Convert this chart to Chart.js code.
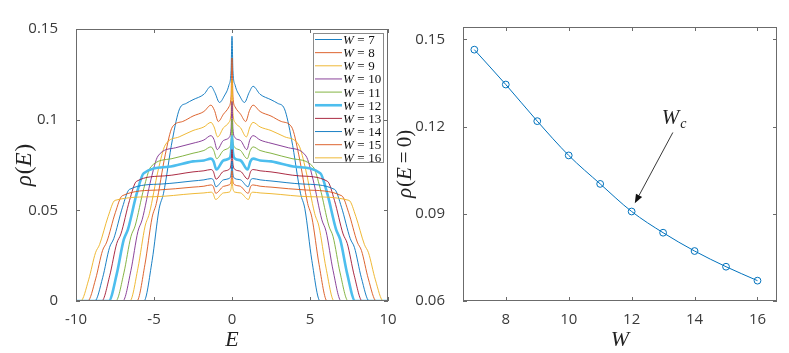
<!DOCTYPE html>
<html><head><meta charset="utf-8">
<script src="https://cdn.jsdelivr.net/npm/chart.js@4/dist/chart.umd.min.js"></script>
<style>
html,body{margin:0;padding:0;background:#fff;width:789px;height:353px;overflow:hidden}
#c1{position:absolute;left:0;top:0}
#c2{position:absolute;left:395px;top:0}
</style></head><body>
<canvas id="c1" width="410" height="353"></canvas>
<canvas id="c2" width="394" height="353"></canvas>
<script>
// ---------- data: left panel, rho(E) for each W ----------
const E_W7 = [-10,-5.65,-5.12,-4.67,-4.39,-3.82,-3.36,-2.93,-2.5,-1.8,-1.35,-1.1,-0.8,-0.5,-0.2,-0.06,0,0.06,0.2,0.5,0.8,1.1,1.35,1.8,2.5,2.93,3.36,3.82,4.39,4.67,5.12,5.65,10];
const rho_W7 = [0,0,0.0223,0.0509,0.0594,0.089,0.106,0.109,0.111,0.114,0.1184,0.115,0.1095,0.113,0.119,0.127,0.146,0.127,0.119,0.113,0.1095,0.115,0.1184,0.114,0.111,0.109,0.106,0.089,0.0594,0.0509,0.0223,0,0];
const E_W8 = [-10,-6.1,-5.58,-5.12,-4.85,-4.28,-3.82,-3.16,-2.5,-1.8,-1.35,-1.12,-0.88,-0.55,-0.2,-0.06,0,0.06,0.2,0.55,0.88,1.12,1.35,1.8,2.5,3.16,3.82,4.28,4.85,5.12,5.58,6.1,10];
const rho_W8 = [0,0,0.0202,0.0461,0.0538,0.0806,0.096,0.099,0.102,0.1045,0.108,0.105,0.099,0.103,0.107,0.113,0.134,0.113,0.107,0.103,0.099,0.105,0.108,0.1045,0.102,0.099,0.096,0.0806,0.0538,0.0461,0.0202,0,0];
const E_W9 = [-10,-6.55,-6.03,-5.57,-5.3,-4.73,-4.28,-3.39,-2.5,-1.8,-1.35,-1.15,-0.92,-0.55,-0.2,-0.06,0,0.06,0.2,0.55,0.92,1.15,1.35,1.8,2.5,3.39,4.28,4.73,5.3,5.57,6.03,6.55,10];
const rho_W9 = [0,0,0.0181,0.0413,0.0482,0.0722,0.086,0.0905,0.094,0.096,0.0985,0.096,0.0905,0.0955,0.0985,0.104,0.122,0.104,0.0985,0.0955,0.0905,0.096,0.0985,0.096,0.094,0.0905,0.086,0.0722,0.0482,0.0413,0.0181,0,0];
const E_W10 = [-10,-7,-6.48,-6.03,-5.76,-5.19,-4.74,-3.62,-2.5,-1.8,-1.35,-1.15,-0.95,-0.55,-0.2,-0.06,0,0.06,0.2,0.55,0.95,1.15,1.35,1.8,2.5,3.62,4.74,5.19,5.76,6.03,6.48,7,10];
const rho_W10 = [0,0,0.0168,0.0384,0.0448,0.0672,0.08,0.0845,0.087,0.0888,0.0912,0.089,0.0835,0.0885,0.09,0.095,0.11,0.095,0.09,0.0885,0.0835,0.089,0.0912,0.0888,0.087,0.0845,0.08,0.0672,0.0448,0.0384,0.0168,0,0];
const E_W11 = [-10,-7.45,-6.93,-6.48,-6.21,-5.65,-5.2,-3.85,-2.5,-1.8,-1.35,-1.17,-0.98,-0.55,-0.2,-0.06,0,0.06,0.2,0.55,0.98,1.17,1.35,1.8,2.5,3.85,5.2,5.65,6.21,6.48,6.93,7.45,10];
const rho_W11 = [0,0,0.0155,0.0355,0.0414,0.0622,0.074,0.0785,0.0815,0.083,0.085,0.083,0.0785,0.083,0.0845,0.088,0.1003,0.088,0.0845,0.083,0.0785,0.083,0.085,0.083,0.0815,0.0785,0.074,0.0622,0.0414,0.0355,0.0155,0,0];
const E_W12 = [-10,-7.9,-7.39,-6.94,-6.67,-6.11,-5.66,-4.08,-2.5,-1.8,-1.35,-1.18,-1,-0.55,-0.2,-0.06,0,0.06,0.2,0.55,1,1.18,1.35,1.8,2.5,4.08,5.66,6.11,6.67,6.94,7.39,7.9,10];
const rho_W12 = [0,0,0.0148,0.0338,0.0395,0.0592,0.0705,0.074,0.077,0.0775,0.0785,0.077,0.0725,0.0775,0.0785,0.082,0.091,0.082,0.0785,0.0775,0.0725,0.077,0.0785,0.0775,0.077,0.074,0.0705,0.0592,0.0395,0.0338,0.0148,0,0];
const E_W13 = [-10,-8.35,-7.84,-7.39,-7.12,-6.57,-6.12,-4.31,-2.5,-1.8,-1.35,-1.2,-1.02,-0.55,-0.2,-0.06,0,0.06,0.2,0.55,1.02,1.2,1.35,1.8,2.5,4.31,6.12,6.57,7.12,7.39,7.84,8.35,10];
const rho_W13 = [0,0,0.0139,0.0317,0.037,0.0554,0.066,0.069,0.0712,0.0718,0.0725,0.0715,0.0672,0.0715,0.0725,0.0755,0.0835,0.0755,0.0725,0.0715,0.0672,0.0715,0.0725,0.0718,0.0712,0.069,0.066,0.0554,0.037,0.0317,0.0139,0,0];
const E_W14 = [-10,-8.8,-8.29,-7.85,-7.58,-7.02,-6.58,-4.54,-2.5,-1.8,-1.35,-1.2,-1.03,-0.55,-0.2,-0.06,0,0.06,0.2,0.55,1.03,1.2,1.35,1.8,2.5,4.54,6.58,7.02,7.58,7.85,8.29,8.8,10];
const rho_W14 = [0,0,0.0129,0.0295,0.0344,0.0517,0.0615,0.0645,0.0662,0.0668,0.0675,0.0668,0.063,0.0668,0.0675,0.07,0.0772,0.07,0.0675,0.0668,0.063,0.0668,0.0675,0.0668,0.0662,0.0645,0.0615,0.0517,0.0344,0.0295,0.0129,0,0];
const E_W15 = [-10,-9.25,-8.74,-8.3,-8.03,-7.48,-7.04,-4.77,-2.5,-1.8,-1.35,-1.2,-1.04,-0.55,-0.2,-0.06,0,0.06,0.2,0.55,1.04,1.2,1.35,1.8,2.5,4.77,7.04,7.48,8.03,8.3,8.74,9.25,10];
const rho_W15 = [0,0,0.0122,0.0278,0.0325,0.0487,0.058,0.0612,0.0628,0.0633,0.064,0.0632,0.0594,0.0632,0.064,0.066,0.0718,0.066,0.064,0.0632,0.0594,0.0632,0.064,0.0633,0.0628,0.0612,0.058,0.0487,0.0325,0.0278,0.0122,0,0];
const E_W16 = [-10,-9.7,-9.19,-8.75,-8.49,-7.94,-7.5,-5,-2.5,-1.8,-1.35,-1.22,-1.05,-0.55,-0.2,-0.06,0,0.06,0.2,0.55,1.05,1.22,1.35,1.8,2.5,5,7.5,7.94,8.49,8.75,9.19,9.7,10];
const rho_W16 = [0,0,0.0117,0.0266,0.0311,0.0466,0.0555,0.0575,0.0592,0.0596,0.06,0.0594,0.056,0.0596,0.06,0.062,0.0672,0.062,0.06,0.0596,0.056,0.0594,0.06,0.0596,0.0592,0.0575,0.0555,0.0466,0.0311,0.0266,0.0117,0,0];

const legendLabels = ['7','8','9','10','11','12','13','14','15','16'];
const leftXTicks = [-10,-5,0,5,10];
const leftYTicks = [0,0.05,0.1,0.15];
const leftYTickLabels = ['0','0.05','0.1','0.15'];

// ---------- data: right panel ----------
const Wvals = [7,8,9,10,11,12,13,14,15,16];
const rhoAtZero = [0.1465,0.1345,0.1219,0.1101,0.1003,0.0908,0.0835,0.0772,0.0718,0.0670];
const rightXTicks = [8,10,12,14,16];
const rightYTicks = [0.06,0.09,0.12,0.15];
const rightYTickLabels = ['0.06','0.09','0.12','0.15'];

// annotation anchors (data units of right panel)
const wcTextPos = {x:12.96, y:0.1209};
const arrowTail = {x:13.31, y:0.1180};
const arrowTip  = {x:12.10, y:0.0936};

// ---------- styling ----------
const colors = ['#0072BD','#D95319','#EDB120','#7E2F8E','#77AC30','#4DBEEE','#A2142F','#0072BD','#D95319','#EDB120'];
const series = [
  [E_W7,rho_W7],[E_W8,rho_W8],[E_W9,rho_W9],[E_W10,rho_W10],[E_W11,rho_W11],
  [E_W12,rho_W12],[E_W13,rho_W13],[E_W14,rho_W14],[E_W15,rho_W15],[E_W16,rho_W16]
];
const TICKFONT = {family:'"Open Sans", sans-serif', size:15};
const TICKCOLOR = '#3a3a3a';
const FRAME = '#6b6b6b';
const SERIF = '"Liberation Serif", "Times New Roman", serif';

function drawRuns(ctx, runs, x, y, align){
  // runs: [text, italic, size, dy, gapAfter]
  let w = 0;
  runs.forEach(r=>{ctx.font=(r[1]?'italic ':'')+r[2]+'px '+SERIF; w+=ctx.measureText(r[0]).width + (r[4]||0);});
  let cx = align==='center' ? x - w/2 : x;
  runs.forEach(r=>{
    ctx.font=(r[1]?'italic ':'')+r[2]+'px '+SERIF;
    ctx.fillText(r[0], cx, y + (r[3]||0));
    cx += ctx.measureText(r[0]).width + (r[4]||0);
  });
  return w;
}

function framePlugin(xt, yt){
  return {
    id:'frame',
    afterDatasetsDraw(chart){
      const {ctx, chartArea:a, scales:{x,y}} = chart;
      ctx.save();
      ctx.strokeStyle=FRAME; ctx.lineWidth=1;
      ctx.strokeRect(a.left+0.5, a.top+0.5, a.right-a.left-1, a.bottom-a.top-1);
      const L=4;
      ctx.beginPath();
      xt.forEach(v=>{const p=Math.round(x.getPixelForValue(v))+0.5;
        ctx.moveTo(p,a.bottom); ctx.lineTo(p,a.bottom-L);
        ctx.moveTo(p,a.top); ctx.lineTo(p,a.top+L);});
      yt.forEach(v=>{const p=Math.round(y.getPixelForValue(v))+0.5;
        ctx.moveTo(a.left,p); ctx.lineTo(a.left+L,p);
        ctx.moveTo(a.right,p); ctx.lineTo(a.right-L,p);});
      ctx.stroke();
      ctx.restore();
    }
  };
}

const leftDecor = {
  id:'leftDecor',
  afterDraw(chart){
    const {ctx, chartArea:a} = chart;
    ctx.save();
    ctx.fillStyle='#222';
    ctx.textBaseline='alphabetic';
    drawRuns(ctx, [['E',true,22]], (a.left+a.right)/2, 346, 'center');
    ctx.save();
    ctx.translate(31, (a.top+a.bottom)/2);
    ctx.rotate(-Math.PI/2);
    drawRuns(ctx, [['ρ',true,23,0,1],['(',false,23],['E',true,23,0,1],[')',false,23]], 0, 0, 'center');
    ctx.restore();
    // legend
    const bx=313, by=33, bw=70, bh=129, rowH=13.15, y0=39.5;
    ctx.fillStyle='#fff'; ctx.fillRect(bx,by,bw,bh);
    ctx.strokeStyle='#8a8a8a'; ctx.lineWidth=1; ctx.strokeRect(bx+0.5,by+0.5,bw,bh);
    chart.data.datasets.forEach((ds,i)=>{
      const yy = y0 + i*rowH;
      ctx.strokeStyle=ds.borderColor; ctx.lineWidth=ds.borderWidth;
      ctx.beginPath(); ctx.moveTo(315,yy); ctx.lineTo(342,yy); ctx.stroke();
      ctx.fillStyle='#111';
      drawRuns(ctx, [['W',true,13,0,3.5],['=',false,13,0,3.5],[legendLabels[i],false,13]], 343, yy+4.5, 'left');
    });
    ctx.restore();
  }
};

const rightDecor = {
  id:'rightDecor',
  afterDraw(chart){
    const {ctx, chartArea:a, scales:{x,y}} = chart;
    ctx.save();
    ctx.fillStyle='#222';
    drawRuns(ctx, [['W',true,22]], (a.left+a.right)/2, 346, 'center');
    ctx.save();
    ctx.translate(16, (a.top+a.bottom)/2);
    ctx.rotate(-Math.PI/2);
    drawRuns(ctx, [['ρ',true,21,0,1],['(',false,21],['E',true,21,0,4],['=',false,21,0,4],['0',false,21],[')',false,21]], 0, 0, 'center');
    ctx.restore();
    // W_c
    const tx=x.getPixelForValue(wcTextPos.x), ty=y.getPixelForValue(wcTextPos.y);
    drawRuns(ctx, [['W',true,21,0,1],['c',true,14,4]], tx, ty, 'left');
    // arrow
    const x1=x.getPixelForValue(arrowTail.x), y1=y.getPixelForValue(arrowTail.y);
    const x2=x.getPixelForValue(arrowTip.x), y2=y.getPixelForValue(arrowTip.y);
    const ang=Math.atan2(y2-y1,x2-x1), hl=9, hw=3.5;
    const bxp=x2-hl*Math.cos(ang), byp=y2-hl*Math.sin(ang);
    ctx.strokeStyle='#222'; ctx.lineWidth=0.9;
    ctx.beginPath(); ctx.moveTo(x1,y1); ctx.lineTo(bxp,byp); ctx.stroke();
    ctx.fillStyle='#111';
    ctx.beginPath();
    ctx.moveTo(x2,y2);
    ctx.lineTo(bxp+hw*Math.sin(ang), byp-hw*Math.cos(ang));
    ctx.lineTo(bxp-hw*Math.sin(ang), byp+hw*Math.cos(ang));
    ctx.closePath(); ctx.fill();
    ctx.restore();
  }
};

function axisCommon(min,max,ticks,labels,isY,size){
  return {
    type:'linear', min, max,
    afterBuildTicks: s => { s.ticks = ticks.map(v=>({value:v})); },
    afterFit: s => { if(isY) s.width=size; else s.height=size; },
    grid:{display:false}, border:{display:false},
    ticks:{font:TICKFONT, color:TICKCOLOR, padding: isY?10:2, maxRotation:0,
      callback:(v,i)=> labels ? labels[i] : String(v)}
  };
}

new Chart(document.getElementById('c1'), {
  type:'line',
  data:{datasets: series.map((s,i)=>({
    label:'W = '+legendLabels[i],
    data: s[0].map((e,j)=>({x:e,y:s[1][j]})),
    borderColor: colors[i],
    borderWidth: i===5 ? 2.6 : 0.9,
    pointRadius:0,
    cubicInterpolationMode:'monotone',
    order: 9-i
  }))},
  options:{
    responsive:false, animation:false, devicePixelRatio:1,
    layout:{padding:{left:0,right:22,top:29,bottom:0}},
    plugins:{legend:{display:false}, tooltip:{enabled:false}},
    scales:{
      x: axisCommon(-10,10,leftXTicks,null,false,52),
      y: axisCommon(0,0.15,leftYTicks,leftYTickLabels,true,76)
    }
  },
  plugins:[framePlugin(leftXTicks,leftYTicks), leftDecor]
});

new Chart(document.getElementById('c2'), {
  type:'line',
  data:{datasets:[{
    data: Wvals.map((w,i)=>({x:w,y:rhoAtZero[i]})),
    borderColor:'#0072BD', borderWidth:1,
    pointRadius:3.4, pointBorderWidth:1, pointBackgroundColor:'rgba(0,0,0,0)', pointBorderColor:'#0072BD',
    cubicInterpolationMode:'monotone'
  }]},
  options:{
    responsive:false, animation:false, devicePixelRatio:1,
    layout:{padding:{left:0,right:12,top:27,bottom:0}},
    plugins:{legend:{display:false}, tooltip:{enabled:false}},
    scales:{
      x: axisCommon(6.64,16.62,rightXTicks,null,false,52),
      y: axisCommon(0.06,0.1543,rightYTicks,rightYTickLabels,true,68)
    }
  },
  plugins:[framePlugin(rightXTicks,rightYTicks), rightDecor]
});
</script></body></html>
